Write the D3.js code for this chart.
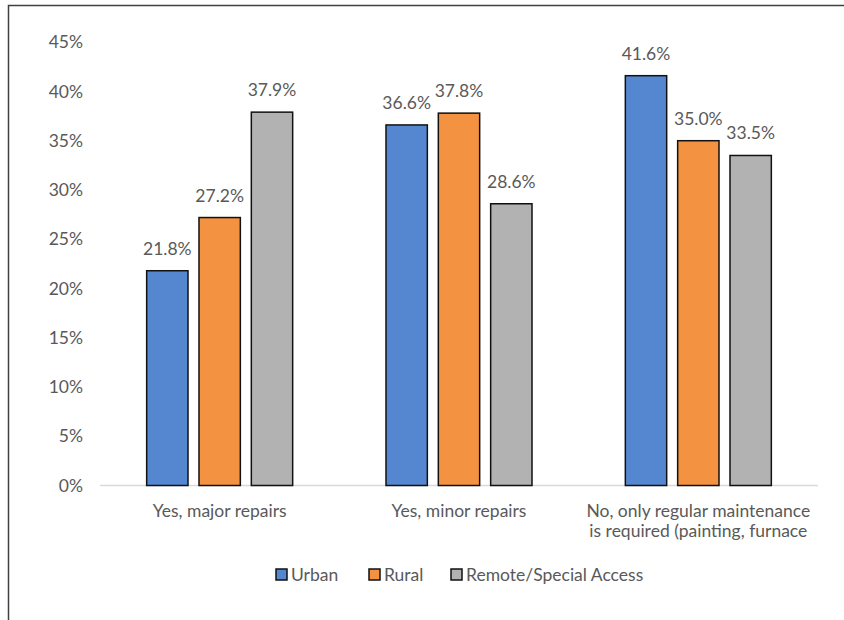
<!DOCTYPE html>
<html><head><meta charset="utf-8">
<script src="https://cdn.jsdelivr.net/npm/d3@7"></script>
<style>body{margin:0;background:#fff}svg{display:block}text{font-family:Lato,"Open Sans",sans-serif;fill:#595959}</style>
</head><body>
<svg id="c" width="844" height="620"></svg>
<script>
const categories = [["Yes, major repairs"], ["Yes, minor repairs"], ["No, only regular maintenance", "is required (painting, furnace"]];
const seriesNames = ["Urban", "Rural", "Remote/Special Access"];
const urban = [21.8, 36.6, 41.6];
const rural = [27.2, 37.8, 35.0];
const remote = [37.9, 28.6, 33.5];
const yTicks = [0, 5, 10, 15, 20, 25, 30, 35, 40, 45];
const colors = ["#5586D0", "#F39240", "#B2B2B2"];

const series = [urban, rural, remote];
const FS = 17.5;
const svg = d3.select("#c");
svg.append("path").attr("d", "M8.5,620 V5.5 H844").attr("fill", "none").attr("stroke", "#404040").attr("stroke-width", 1.5);

const x0 = d3.scaleBand().domain(d3.range(categories.length)).range([100, 818]);
const x1 = d3.scaleBand().domain(d3.range(series.length)).range([0, 146]).paddingInner(0.21);
const y = d3.scaleLinear().domain([0, 45]).range([485.5, 42.2]);

const yAxis = svg.append("g").attr("transform", "translate(100,0)")
  .call(d3.axisLeft(y).tickValues(yTicks).tickFormat(d => d + "%").tickSize(0).tickPadding(17));
yAxis.select(".domain").remove();
yAxis.selectAll("text").attr("font-size", FS).style("fill", "#595959").style("font-family", "Lato");

svg.append("line").attr("x1", 100).attr("x2", 818).attr("y1", y(0)).attr("y2", y(0)).attr("stroke", "#D9D9D9").attr("stroke-width", 1.5);

categories.forEach((cat, i) => {
  const gx = x0(i) + (x0.bandwidth() - 146) / 2;
  series.forEach((s, j) => {
    const bx = gx + x1(j);
    svg.append("rect").attr("x", bx).attr("y", y(s[i])).attr("width", x1.bandwidth()).attr("height", y(0) - y(s[i]))
      .attr("fill", colors[j]).attr("stroke", "#111").attr("stroke-width", 1.5);
    svg.append("text").attr("x", bx + x1.bandwidth() / 2).attr("y", y(s[i]) - 16).attr("text-anchor", "middle")
      .attr("font-size", FS).text(s[i].toFixed(1) + "%");
  });
  cat.forEach((line, k) => {
    svg.append("text").attr("x", x0(i) + x0.bandwidth() / 2).attr("y", 517 + k * 20).attr("text-anchor", "middle")
      .attr("font-size", FS).text(line);
  });
});

const legX = [276, 369, 451];
seriesNames.forEach((n, j) => {
  svg.append("rect").attr("x", legX[j]).attr("y", 569).attr("width", 11).attr("height", 11)
    .attr("fill", colors[j]).attr("stroke", "#111").attr("stroke-width", 1.5);
  svg.append("text").attr("x", legX[j] + 15).attr("y", 581).attr("font-size", FS).text(n);
});
</script>
</body></html>
